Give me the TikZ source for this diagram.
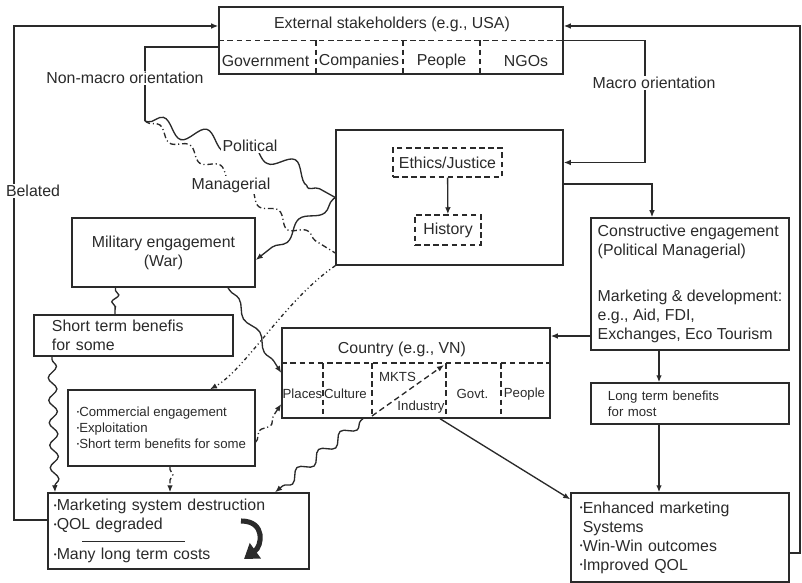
\documentclass[tikz,border=0pt]{standalone}
\usepackage{fontspec}
\setmainfont{Liberation Sans}
\usetikzlibrary{arrows.meta,decorations.pathmorphing}
\definecolor{lncol}{HTML}{2A2A2A}
\newcommand{\bul}{\raisebox{0.3ex}{\scalebox{0.5}{\textbullet}}}

\tikzset{
  mainf/.style={font=\fontsize{11.3}{13.5}\selectfont},
  smallf/.style={font=\fontsize{9.4}{11.4}\selectfont},
  box/.style={draw, line width=1pt, inner sep=0pt},
  dsh/.style={dash pattern=on 4pt off 2.5pt},
  dbox/.style={box, dsh},
  lbl/.style={fill=white, inner sep=1pt, mainf},
  dshdot/.style={dash pattern=on 4pt off 2pt on 0.8pt off 2pt},
  dotdsh/.style={dash pattern=on 2.5pt off 2pt on 0.8pt off 2pt on 0.8pt off 2pt},
  wave/.style 2 args={decorate, decoration={snake, amplitude=#1, segment length=#2, pre length=2pt, post length=4pt}},
}

\begin{document}
\begin{tikzpicture}[x=0.025cm, y=-0.025cm, line width=0.95pt, color=lncol, >={Latex[length=5pt,width=4pt]}]
  \useasboundingbox (0,0) rectangle (802,583);

  % Stakeholders
  \node[box, minimum width=8.6cm, minimum height=1.675cm] (ext) at (391,40.5) {};
  \node[mainf] (extT) at (392,24) {External stakeholders (e.g., USA)};
  \draw[dsh] (ext.west) -- (ext.east);
  \foreach \x in {316,403,480} \draw[dsh] (\x,40.5) -- (\x,74);
  \node[mainf] (gov) at (265.5,61) {Government};
  \node[mainf] (comp) at (359,61) {Companies};
  \node[mainf] (peop) at (441.5,61) {People};
  \node[mainf] (ngo) at (526,61) {NGOs};

  % Ethics / History
  \node[box, minimum width=5.675cm, minimum height=3.375cm] (big) at (449.5,197.5) {};
  \node[dbox, mainf, minimum width=2.725cm, minimum height=0.725cm] (ethics) at (447.5,162.5) {Ethics/Justice};
  \node[dbox, mainf, minimum width=1.65cm, minimum height=0.75cm] (history) at (448,230) {History};
  \draw[->] (ethics) -- (history);

  % right column
  \node[box, mainf, minimum width=4.95cm, minimum height=3.3cm, align=left] (cons) at (690,284)
    {Constructive engagement\\(Political Managerial)\\[0.675cm]Marketing \& development:\\e.g., Aid, FDI,\\Exchanges, Eco Tourism};
  \node[box, smallf, text width=4.1cm, inner xsep=0.425cm, minimum height=1.025cm, align=left] (longterm) at (690,403.5)
    {Long term benefits\\for most};
  \node[box, mainf, text width=5cm, inner xsep=0.225cm, minimum height=2.225cm, align=left] (enh) at (680,537.5)
    {\bul Enhanced marketing\\\hphantom{\bul}Systems\\\bul Win-Win outcomes\\\bul Improved QOL};

  % Country
  \node[box, minimum width=6.7cm, minimum height=2.25cm] (country) at (416,373) {};
  \node[mainf] (countryT) at (402,349) {Country (e.g., VN)};
  \draw[dsh] ([yshift=0.25cm]country.west) -- ([yshift=0.25cm]country.east);
  \foreach \x in {323,372,446,501} \draw[dsh] (\x,363) -- (\x,418);
  \draw[dsh,->] (372,416) -- (444,365);
  \node[smallf] (places) at (302.5,394) {Places};
  \node[smallf] (culture) at (345.5,394) {Culture};
  \node[smallf] (mkts) at (397.5,377) {MKTS};
  \node[smallf] (industry) at (421,407) {Industry};
  \node[smallf] (govt) at (472.5,394) {Govt.};
  \node[smallf] (cpeople) at (524.5,394) {People};

  % left column
  \node[box, mainf, minimum width=4.575cm, minimum height=1.725cm, align=center] (mil) at (163.5,252.5)
    {Military engagement\\(War)};
  \node[box, mainf, text width=4.075cm, inner xsep=0.45cm, minimum height=1.025cm, align=left] (short) at (133.5,335.5)
    {Short term benefis\\for some};
  \node[box, smallf, minimum width=4.675cm, minimum height=1.9cm, align=left] (comm) at (161.5,428)
    {\bul Commercial engagement\\\bul Exploitation\\\bul Short term benefits for some};
  \node[box, mainf, text width=6.225cm, inner xsep=0.15cm, minimum height=1.9cm, align=left] (mkd) at (178.5,531)
    {\bul Marketing system destruction\\\bul QOL degraded\\[0.275cm]\bul Many long term costs};
  \draw[line width=0.6pt] (82,541) -- (185,541);
  \draw[line width=3.6pt, -{Triangle[length=10pt,width=13pt]}] (241,521) .. controls (266,521) and (262,546) .. (244,559);

  % outer loops
  \draw[->] ([yshift=0.275cm]mkd.west) -| (14,300) |- ([yshift=0.3625cm]ext.west);
  \node[lbl] (belated) at (33,191) {Belated};
  \draw[->] ([yshift=-0.3875cm]enh.east) -| (800,300) |- ([yshift=0.3625cm]ext.east);

  % macro
  \draw[->] (ext.east) -| (645,100) |- (big.east |- ethics);
  \node[lbl] (macro) at (654,83) {Macro orientation};
  \draw[->] ([yshift=0.3375cm]big.east) -| ([xshift=-0.95cm]cons.north);

  % non-macro
  \coordinate (nmend) at (145,121);
  \draw ([yshift=-0.1625cm]ext.west) -| (nmend);
  \node[lbl] (nonmacro) at (125,78) {Non-macro orientation};
  \draw[wave={6pt}{32pt}] (nmend) -- (250,150) -- (big.west);
  \draw[dshdot, wave={3.5pt}{26pt}] (nmend) -- (231,178) -- (285,222) -- ([yshift=-1.3875cm]big.west);
  \node[lbl] (political) at (250,146) {Political};
  \node[lbl] (managerial) at (231,185) {Managerial};

  % engagements
  \draw[->, wave={4pt}{34pt}] (big.west) -- ([yshift=-0.1875cm]mil.east);
  \draw[wave={2.5pt}{10pt}] ([xshift=-1.2cm]mil.south) -- ([xshift=-0.4625cm]short.north);
  \draw[->, wave={3pt}{16pt}] ([xshift=-2.0375cm]short.south) -- ([xshift=-3.0875cm]mkd.north);
  \draw[->, wave={2.5pt}{28pt}] ([xshift=1.6125cm]mil.south) -- (country.west);
  \draw[->, dotdsh] (big.south west) .. controls (285,300) and (245,370) .. ([xshift=1.2125cm]comm.north);
  \draw[->, dshdot, wave={2.5pt}{18pt}] ([yshift=-0.35cm]comm.east) -- ([yshift=-0.775cm]country.west);
  \draw[->, dshdot, wave={2pt}{12pt}] ([xshift=0.2125cm]comm.south) -- ([xshift=-0.2125cm]mkd.north);
  \draw[->, wave={3.5pt}{20pt}] ([xshift=-1.325cm]country.south) -- ([xshift=2.4125cm]mkd.north);
  \draw[->] ([xshift=0.6cm]country.south) -- ([yshift=-0.175cm]enh.north west);
  \draw[->] ([yshift=-1.3cm]cons.west) -- ([yshift=-1.3cm]cons.west -| country.east);
  \draw[->] ([xshift=-0.775cm]cons.south) -- ([xshift=-0.775cm]longterm.north);
  \draw[->] ([xshift=-0.775cm]longterm.south) -- ([xshift=-0.775cm]longterm.south |- enh.north);
\end{tikzpicture}
\end{document}
